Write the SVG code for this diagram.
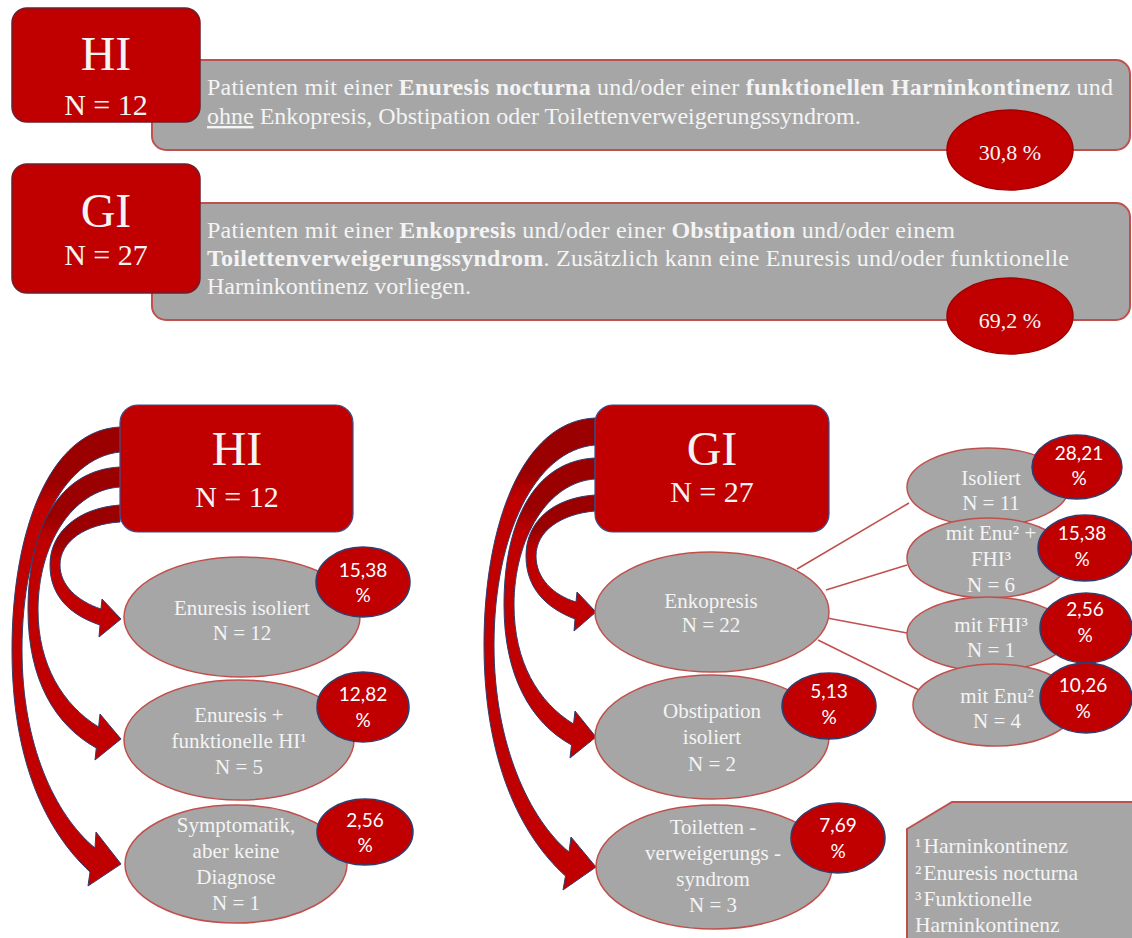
<svg xmlns="http://www.w3.org/2000/svg" width="1132" height="938" viewBox="0 0 1132 938">
  <style>
    .banner { fill: #a6a6a6; stroke: #c0504d; stroke-width: 2; }
    .topbox { fill: #c00000; stroke: #6d1f2a; stroke-width: 1.5; }
    .box { fill: #c00000; stroke: #3c4f8a; stroke-width: 1.2; }
    .node { fill: #a6a6a6; stroke: #c0504d; stroke-width: 1.5; }
    .pct { fill: #c00000; stroke: #2f3e6e; stroke-width: 1.5; }
    .toppct { fill: #c00000; stroke: #a00000; stroke-width: 1.5; }
    .arrow { stroke: #2f3e6e; stroke-width: 1; }
    .link { stroke: #c0504d; stroke-width: 1.5; fill: none; }
    .serif { font-family: "Liberation Serif", "Times New Roman", serif; fill: #f4f4f4; }
    .big { font-size: 48px; text-anchor: middle; }
    .mid { font-size: 30px; text-anchor: middle; }
    .bt { font-size: 24px; }
    .nt { font-size: 21px; text-anchor: middle; }
    .pt { font-family: Lato, "Liberation Sans", sans-serif; font-size: 19px; fill: #ffffff; text-anchor: middle; }
    .tp { font-size: 22px; text-anchor: middle; }
    .lg { font-size: 21.5px; }
  </style>
  <defs>
    <linearGradient id="gHA" gradientUnits="userSpaceOnUse" x1="0" y1="427" x2="0" y2="527">
      <stop offset="0" stop-color="#9a0000"/><stop offset="0.55" stop-color="#9a0000"/><stop offset="0.8" stop-color="#c00000"/>
    </linearGradient>
    <linearGradient id="gHB" gradientUnits="userSpaceOnUse" x1="0" y1="467" x2="0" y2="567">
      <stop offset="0" stop-color="#9a0000"/><stop offset="0.5" stop-color="#9a0000"/><stop offset="0.75" stop-color="#c00000"/>
    </linearGradient>
    <linearGradient id="gHC" gradientUnits="userSpaceOnUse" x1="0" y1="505" x2="0" y2="585">
      <stop offset="0" stop-color="#9a0000"/><stop offset="0.45" stop-color="#9a0000"/><stop offset="0.7" stop-color="#c00000"/>
    </linearGradient>
    <linearGradient id="gGA" gradientUnits="userSpaceOnUse" x1="0" y1="418" x2="0" y2="518">
      <stop offset="0" stop-color="#9a0000"/><stop offset="0.55" stop-color="#9a0000"/><stop offset="0.8" stop-color="#c00000"/>
    </linearGradient>
    <linearGradient id="gGB" gradientUnits="userSpaceOnUse" x1="0" y1="458" x2="0" y2="558">
      <stop offset="0" stop-color="#9a0000"/><stop offset="0.5" stop-color="#9a0000"/><stop offset="0.75" stop-color="#c00000"/>
    </linearGradient>
    <linearGradient id="gGC" gradientUnits="userSpaceOnUse" x1="0" y1="495" x2="0" y2="575">
      <stop offset="0" stop-color="#9a0000"/><stop offset="0.45" stop-color="#9a0000"/><stop offset="0.7" stop-color="#c00000"/>
    </linearGradient>
  </defs>

  <rect width="1132" height="938" fill="#ffffff"/>

  <!-- Overview: HI -->
  <g id="overview-hi">
    <rect class="banner" x="152" y="60" width="978" height="90" rx="14"/>
    <text class="serif bt" x="207" y="95" textLength="906" lengthAdjust="spacing">Patienten mit einer <tspan font-weight="bold">Enuresis nocturna</tspan> und/oder einer <tspan font-weight="bold">funktionellen Harninkontinenz</tspan> und</text>
    <text class="serif bt" x="207" y="124"><tspan text-decoration="underline">ohne</tspan> Enkopresis, Obstipation oder Toilettenverweigerungssyndrom.</text>
    <rect class="topbox" x="12" y="8" width="188" height="114" rx="15"/>
    <text class="serif big" x="106" y="70">HI</text>
    <text class="serif mid" x="106" y="115">N = 12</text>
    <ellipse class="toppct" cx="1010" cy="150" rx="63" ry="40"/>
    <text class="serif tp" x="1010" y="160">30,8 %</text>
  </g>

  <!-- Overview: GI -->
  <g id="overview-gi">
    <rect class="banner" x="152" y="203" width="978" height="117" rx="14"/>
    <text class="serif bt" x="207" y="238" textLength="748" lengthAdjust="spacing">Patienten mit einer <tspan font-weight="bold">Enkopresis</tspan> und/oder einer <tspan font-weight="bold">Obstipation</tspan> und/oder einem</text>
    <text class="serif bt" x="207" y="266" textLength="862" lengthAdjust="spacing"><tspan font-weight="bold">Toilettenverweigerungssyndrom</tspan>. Zusätzlich kann eine Enuresis und/oder funktionelle</text>
    <text class="serif bt" x="207" y="294">Harninkontinenz vorliegen.</text>
    <rect class="topbox" x="12" y="164" width="188" height="129" rx="15"/>
    <text class="serif big" x="106" y="227">GI</text>
    <text class="serif mid" x="106" y="265">N = 27</text>
    <ellipse class="toppct" cx="1010" cy="316" rx="63" ry="38"/>
    <text class="serif tp" x="1010" y="328">69,2 %</text>
  </g>

  <!-- Connectors -->
  <g id="connectors">
    <path class="arrow" fill="url(#gHA)" d="M120,427 C50,430 12,530 12,650 C12,760 45,830 90,872 L88,886 L121,864 L96,832 L95,848 C55,815 22,745 22,650 C22,540 62,458 120,452 Z"/>
    <path class="arrow" fill="url(#gHB)" d="M120,467 C58,470 28,530 28,610 C28,680 55,725 96.3,748 L95,760 L121,739 L100,714 L98.6,727 C63,705 38,665 38,610 C38,545 72,490 120,487 Z"/>
    <path class="arrow" fill="url(#gHC)" d="M120,505 C78,508 50,532 50,565 C50,596 70,615 100,625 L99,637 L121,619 L102,599 L101,609 C77,601 60,585 60,565 C60,541 86,524 120,522 Z"/>
    <path class="arrow" fill="url(#gGA)" d="M595,418 C522,421 484,525 484,645 C484,760 520,835 565.5,876 L563,890 L596,867 L571,837 L569,852 C530,820 494,745 494,645 C494,535 535,450 595,445 Z"/>
    <path class="arrow" fill="url(#gGB)" d="M595,458 C534,461 504,522 504,605 C504,675 530,722 571.5,745 L570,758 L596,737 L575,711 L573.5,724 C538,702 514,662 514,605 C514,538 548,482 595,479 Z"/>
    <path class="arrow" fill="url(#gGC)" d="M595,495 C552,498 526,522 526,556 C526,588 546,608 575,619 L574,631 L596,612 L577,592 L576,602 C553,595 536,578 536,556 C536,531 561,514 595,511 Z"/>
    <line class="link" x1="797" y1="569" x2="909" y2="503"/>
    <line class="link" x1="826" y1="590" x2="907" y2="565"/>
    <line class="link" x1="827" y1="618" x2="907" y2="633"/>
    <line class="link" x1="818" y1="640" x2="919" y2="690"/>
  </g>

  <!-- HI breakdown -->
  <g id="hi-root">
    <rect class="box" x="120" y="405" width="233" height="127" rx="18"/>
    <text class="serif big" x="237" y="465" font-size="46">HI</text>
    <text class="serif mid" x="237" y="507">N = 12</text>
  </g>
  <g id="hi-enuresis-isoliert">
    <ellipse class="node" cx="242" cy="617" rx="118" ry="60"/>
    <text class="serif nt" x="242" y="615">Enuresis isoliert</text>
    <text class="serif nt" x="242" y="640">N = 12</text>
    <ellipse class="pct" cx="363" cy="582" rx="47" ry="35"/>
    <text class="pt" x="363" y="577">15,38</text>
    <text class="pt" x="363" y="602">%</text>
  </g>
  <g id="hi-enuresis-fhi">
    <ellipse class="node" cx="239" cy="740" rx="115" ry="60"/>
    <text class="serif nt" x="239" y="722">Enuresis +</text>
    <text class="serif nt" x="239" y="748">funktionelle HI¹</text>
    <text class="serif nt" x="239" y="774">N = 5</text>
    <ellipse class="pct" cx="363" cy="707" rx="46" ry="35"/>
    <text class="pt" x="363" y="701">12,82</text>
    <text class="pt" x="363" y="727">%</text>
  </g>
  <g id="hi-symptomatik">
    <ellipse class="node" cx="236" cy="864" rx="111" ry="59"/>
    <text class="serif nt" x="236" y="832">Symptomatik,</text>
    <text class="serif nt" x="236" y="858">aber keine</text>
    <text class="serif nt" x="236" y="884">Diagnose</text>
    <text class="serif nt" x="236" y="910">N = 1</text>
    <ellipse class="pct" cx="365" cy="832" rx="48" ry="33"/>
    <text class="pt" x="365" y="827">2,56</text>
    <text class="pt" x="365" y="852">%</text>
  </g>

  <!-- GI breakdown -->
  <g id="gi-root">
    <rect class="box" x="595" y="405" width="234" height="127" rx="18"/>
    <text class="serif big" x="712" y="465" font-size="46">GI</text>
    <text class="serif mid" x="712" y="502">N = 27</text>
  </g>
  <g id="gi-enkopresis">
    <ellipse class="node" cx="712" cy="612" rx="117" ry="60"/>
    <text class="serif nt" x="711" y="608">Enkopresis</text>
    <text class="serif nt" x="711" y="632">N = 22</text>
  </g>
  <g id="gi-obstipation">
    <ellipse class="node" cx="712" cy="737" rx="117" ry="62"/>
    <text class="serif nt" x="712" y="718">Obstipation</text>
    <text class="serif nt" x="712" y="744">isoliert</text>
    <text class="serif nt" x="712" y="771">N = 2</text>
    <ellipse class="pct" cx="829" cy="706" rx="47" ry="33"/>
    <text class="pt" x="829" y="698">5,13</text>
    <text class="pt" x="829" y="724">%</text>
  </g>
  <g id="gi-toilettenverweigerung">
    <ellipse class="node" cx="714" cy="867" rx="118" ry="62"/>
    <text class="serif nt" x="713" y="834">Toiletten -</text>
    <text class="serif nt" x="713" y="860">verweigerungs -</text>
    <text class="serif nt" x="713" y="886">syndrom</text>
    <text class="serif nt" x="713" y="912">N = 3</text>
    <ellipse class="pct" cx="838" cy="838" rx="47" ry="35"/>
    <text class="pt" x="838" y="832">7,69</text>
    <text class="pt" x="838" y="858">%</text>
  </g>
  <g id="enk-isoliert">
    <ellipse class="node" cx="988" cy="487" rx="81" ry="39"/>
    <text class="serif nt" x="991" y="485">Isoliert</text>
    <text class="serif nt" x="991" y="510">N = 11</text>
    <ellipse class="pct" cx="1077" cy="467" rx="45" ry="32"/>
    <text class="pt" x="1079" y="460">28,21</text>
    <text class="pt" x="1079" y="485">%</text>
  </g>
  <g id="enk-enu-fhi">
    <ellipse class="node" cx="988" cy="558" rx="81" ry="40"/>
    <text class="serif nt" x="991" y="540">mit Enu² +</text>
    <text class="serif nt" x="991" y="566">FHI³</text>
    <text class="serif nt" x="991" y="592">N = 6</text>
    <ellipse class="pct" cx="1085" cy="548" rx="47" ry="33"/>
    <text class="pt" x="1082" y="540">15,38</text>
    <text class="pt" x="1082" y="566">%</text>
  </g>
  <g id="enk-fhi">
    <ellipse class="node" cx="988" cy="634" rx="81" ry="37"/>
    <text class="serif nt" x="991" y="632">mit FHI³</text>
    <text class="serif nt" x="991" y="657">N = 1</text>
    <ellipse class="pct" cx="1086" cy="628" rx="46" ry="35"/>
    <text class="pt" x="1085" y="616">2,56</text>
    <text class="pt" x="1085" y="642">%</text>
  </g>
  <g id="enk-enu">
    <ellipse class="node" cx="995" cy="705" rx="82" ry="41"/>
    <text class="serif nt" x="997" y="703">mit Enu²</text>
    <text class="serif nt" x="997" y="728">N = 4</text>
    <ellipse class="pct" cx="1086" cy="698" rx="46" ry="35"/>
    <text class="pt" x="1083" y="692">10,26</text>
    <text class="pt" x="1083" y="718">%</text>
  </g>

  <!-- Footnotes -->
  <g id="legend">
    <polygon class="banner" points="907,829 952,802 1140,802 1140,945 907,945"/>
    <text class="serif lg" x="915" y="853">¹<tspan dx="2">Harninkontinenz</tspan></text>
    <text class="serif lg" x="915" y="880">²<tspan dx="2">Enuresis nocturna</tspan></text>
    <text class="serif lg" x="915" y="906">³<tspan dx="2">Funktionelle</tspan></text>
    <text class="serif lg" x="915" y="932">Harninkontinenz</text>
  </g>
</svg>
